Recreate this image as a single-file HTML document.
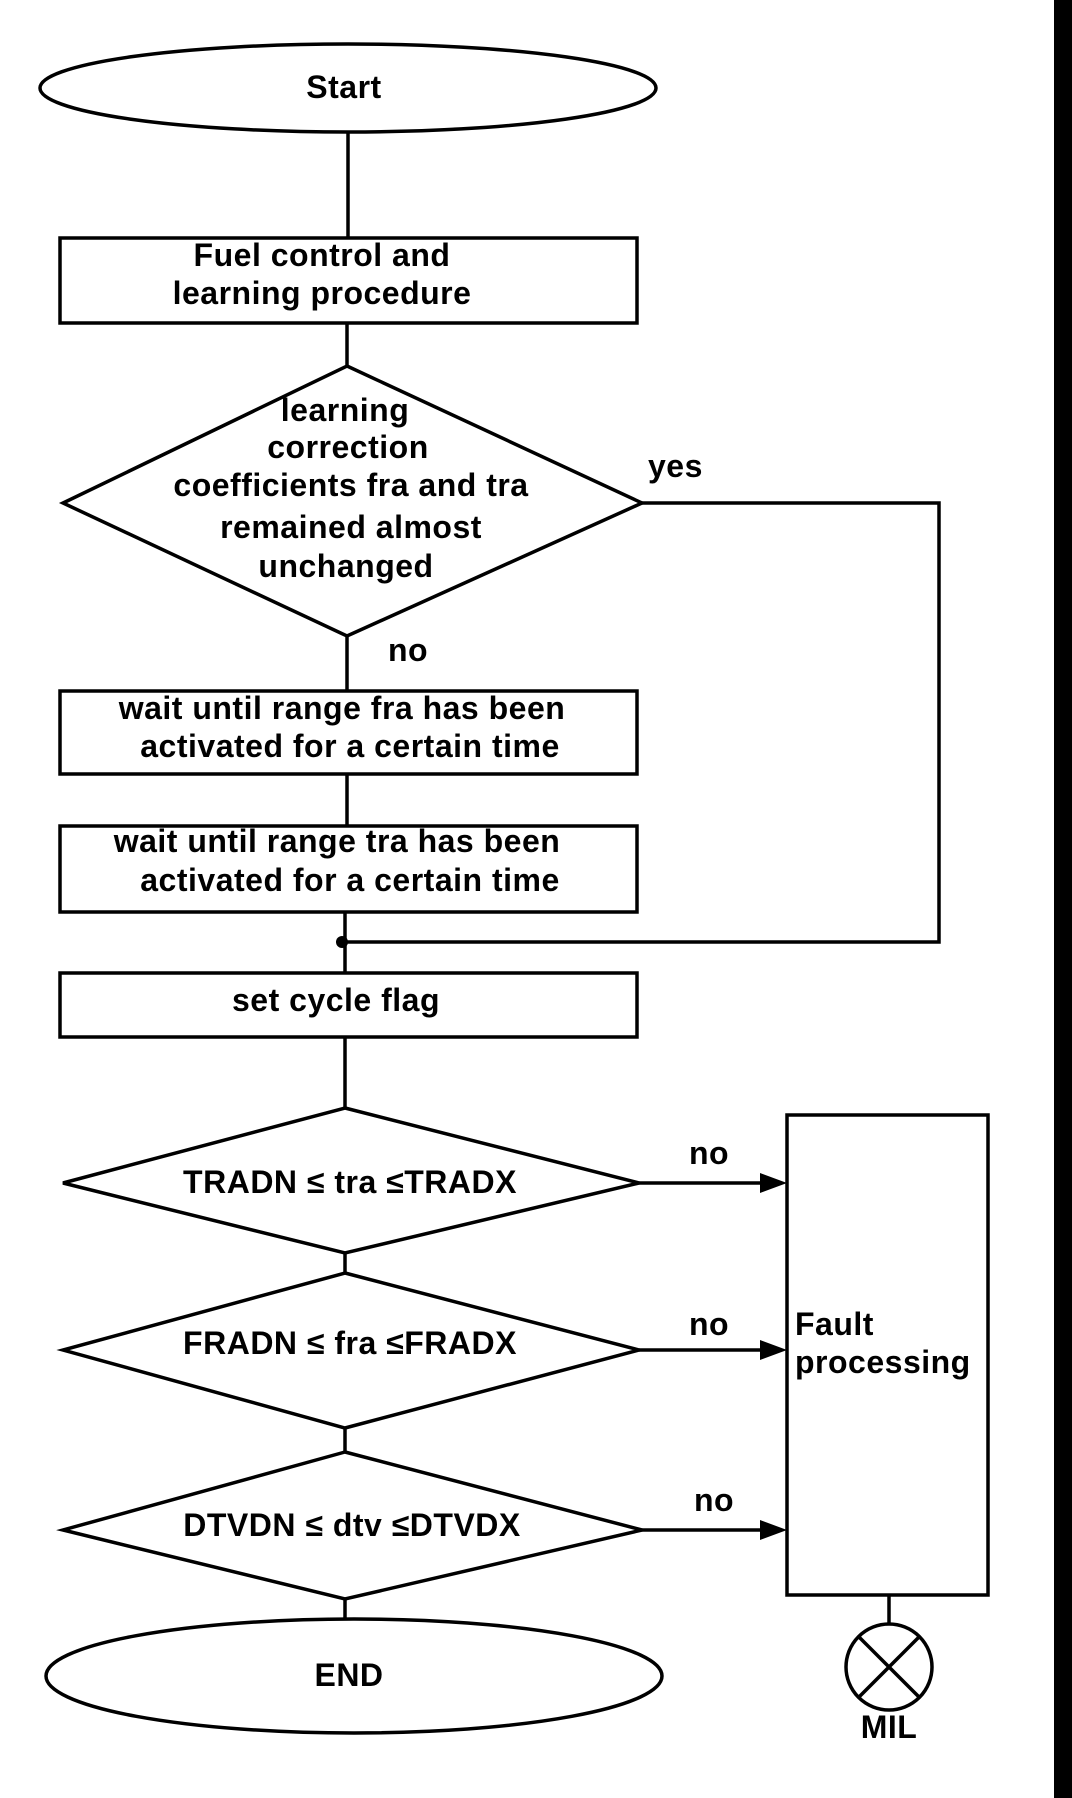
<!DOCTYPE html>
<html><head><meta charset="utf-8"><style>
html,body{margin:0;padding:0;background:#fff;}
svg{display:block;}
text{font-family:"Liberation Sans",Arial,sans-serif;font-size:32px;font-weight:bold;letter-spacing:0.5px;fill:#000;}
</style></head><body>
<svg width="1072" height="1798" viewBox="0 0 1072 1798" xmlns="http://www.w3.org/2000/svg">
<rect x="1054" y="0" width="18" height="1798" fill="#000"/>
<g fill="none" stroke="#000" stroke-width="3.5">
<ellipse cx="348" cy="88" rx="308" ry="44"/>
<line x1="348" y1="132" x2="348" y2="238"/>
<rect x="60" y="238" width="577" height="85"/>
<line x1="347" y1="323" x2="347" y2="366"/>
<polygon points="347,366 642,503 347,636 63,503"/>
<polyline points="642,503 939,503 939,942 345,942"/>
<line x1="347" y1="636" x2="347" y2="691"/>
<rect x="60" y="691" width="577" height="83"/>
<line x1="347" y1="774" x2="347" y2="826"/>
<rect x="60" y="826" width="577" height="86"/>
<line x1="345" y1="912" x2="345" y2="973"/>
<rect x="60" y="973" width="577" height="64"/>
<line x1="345" y1="1037" x2="345" y2="1108"/>
<polygon points="345,1108 639,1183 345,1253 63,1183"/>
<line x1="345" y1="1253" x2="345" y2="1273"/>
<polygon points="345,1273 639,1350 345,1428 63,1350"/>
<line x1="345" y1="1428" x2="345" y2="1452"/>
<polygon points="345,1452 642,1530 345,1599 63,1530"/>
<line x1="345" y1="1599" x2="345" y2="1619"/>
<ellipse cx="354" cy="1676" rx="308" ry="57"/>
<rect x="787" y="1115" width="201" height="480"/>
<line x1="639" y1="1183" x2="765" y2="1183"/>
<line x1="639" y1="1350" x2="765" y2="1350"/>
<line x1="642" y1="1530" x2="765" y2="1530"/>
<line x1="889" y1="1595" x2="889" y2="1625"/>
<ellipse cx="889" cy="1667" rx="43" ry="43"/>
<line x1="859" y1="1637" x2="919" y2="1697"/>
<line x1="919" y1="1637" x2="859" y2="1697"/>
</g>
<circle cx="342" cy="942" r="6" fill="#000"/>
<polygon points="787,1183 760,1173 760,1193" fill="#000"/>
<polygon points="787,1350 760,1340 760,1360" fill="#000"/>
<polygon points="787,1530 760,1520 760,1540" fill="#000"/>
<g text-anchor="middle">
<text x="344" y="98">Start</text>
<text x="322" y="266">Fuel control and</text>
<text x="322" y="304">learning procedure</text>
<text x="345" y="421">learning</text>
<text x="348" y="458">correction</text>
<text x="351" y="496">coefficients fra and tra</text>
<text x="351" y="538">remained almost</text>
<text x="346" y="577">unchanged</text>
<text x="342" y="719">wait until range fra has been</text>
<text x="350" y="757">activated for a certain time</text>
<text x="337" y="852">wait until range tra has been</text>
<text x="350" y="891">activated for a certain time</text>
<text x="336" y="1011">set cycle flag</text>
<text x="350" y="1193">TRADN ≤ tra ≤TRADX</text>
<text x="350" y="1354">FRADN ≤ fra ≤FRADX</text>
<text x="352" y="1536">DTVDN ≤ dtv ≤DTVDX</text>
<text x="349" y="1686">END</text>
<text x="889" y="1738">MIL</text>
</g>
<text x="648" y="477">yes</text>
<text x="388" y="661">no</text>
<text x="689" y="1164">no</text>
<text x="689" y="1335">no</text>
<text x="694" y="1511">no</text>
<text x="795" y="1335">Fault</text>
<text x="795" y="1373">processing</text>
</svg>
</body></html>
